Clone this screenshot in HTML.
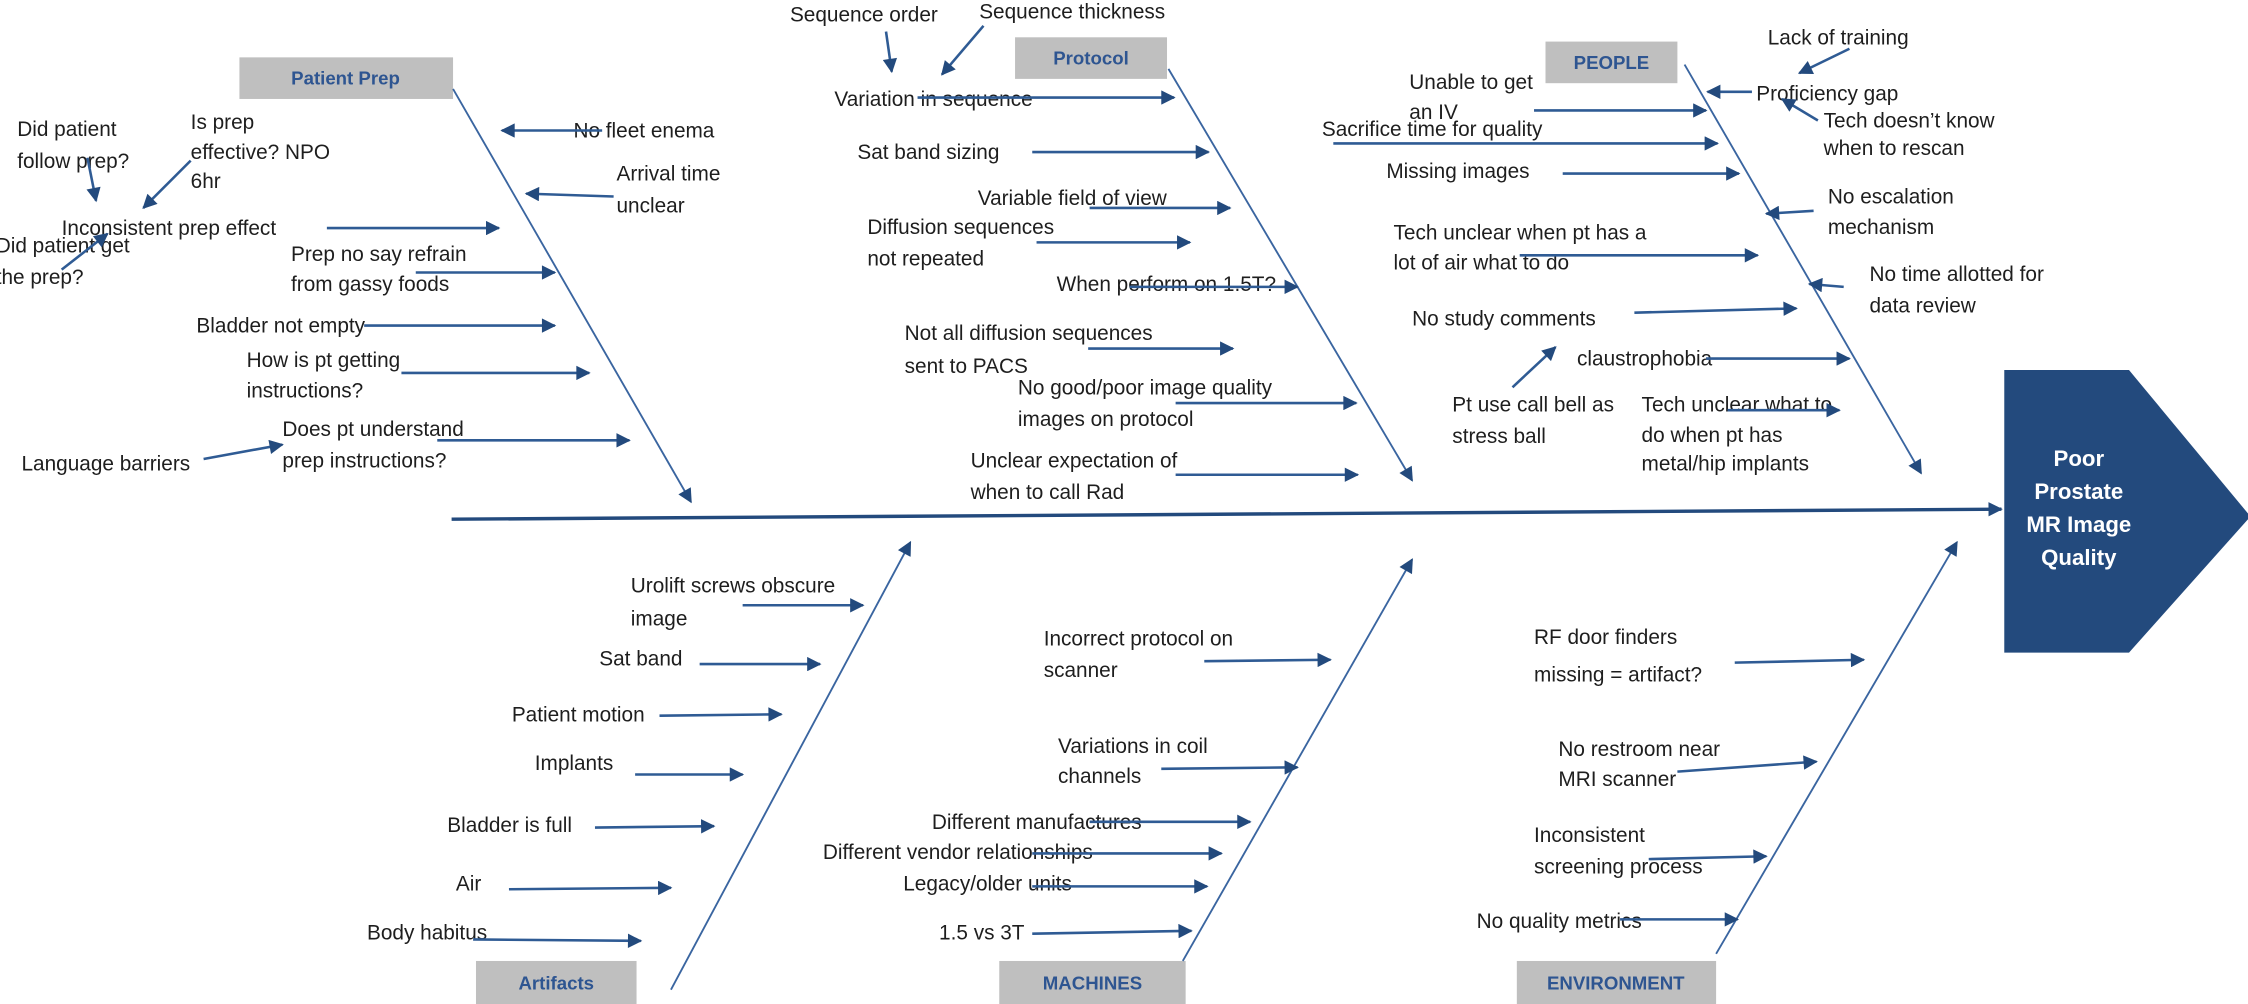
<!DOCTYPE html>
<html><head><meta charset="utf-8"><style>
html,body{margin:0;padding:0;background:#fff;}
svg{display:block;}
text{font-family:"Liberation Sans Narrow","Liberation Sans",sans-serif;font-size:14.5px;fill:#1e1e1e;}
.c{font-family:"Liberation Sans",sans-serif;font-weight:bold;font-size:13px;fill:#2e5591;text-anchor:middle;}
.h{font-family:"Liberation Sans",sans-serif;font-weight:bold;font-size:15.5px;fill:#fff;text-anchor:middle;}
.a{stroke:#2f5b94;stroke-width:1.8;fill:none;marker-end:url(#m);}
.b{stroke:#3a65a0;stroke-width:1.3;fill:none;marker-end:url(#m2);}
</style></head><body>
<svg width="2248" height="1004" viewBox="0 0 1568 700" preserveAspectRatio="none">
<defs>
<marker id="m" viewBox="0 0 10 10" refX="9" refY="5" markerWidth="13" markerHeight="10" markerUnits="userSpaceOnUse" orient="auto"><path d="M0,0L10,5L0,10z" fill="#234a7d"/></marker>
<marker id="m2" viewBox="0 0 10 10" refX="9" refY="5" markerWidth="16" markerHeight="10" markerUnits="userSpaceOnUse" orient="auto"><path d="M0,0L10,5L0,10z" fill="#234a7d"/></marker>
</defs>
<path d="M1398,258 L1485,258 L1568,358 L1568,362 L1485,455 L1398,455 Z" fill="#234a7d"/>
<text class="h" x="1450" y="325">Poor</text>
<text class="h" x="1450" y="348">Prostate</text>
<text class="h" x="1450" y="371">MR Image</text>
<text class="h" x="1450" y="394">Quality</text>
<line x1="315" y1="362" x2="1396" y2="355" stroke="#234a7d" stroke-width="2.4" marker-end="url(#m2)"/>
<rect x="167" y="40" width="149" height="29" fill="#bfbfbf"/><text class="c" x="241" y="59">Patient Prep</text>
<rect x="708" y="26" width="106" height="29" fill="#bfbfbf"/><text class="c" x="761" y="45">Protocol</text>
<rect x="1078" y="29" width="92" height="29" fill="#bfbfbf"/><text class="c" x="1124" y="48">PEOPLE</text>
<rect x="332" y="670" width="112" height="30" fill="#bfbfbf"/><text class="c" x="388" y="690">Artifacts</text>
<rect x="697" y="670" width="130" height="30" fill="#bfbfbf"/><text class="c" x="762" y="690">MACHINES</text>
<rect x="1058" y="670" width="139" height="30" fill="#bfbfbf"/><text class="c" x="1127" y="690">ENVIRONMENT</text>
<line class="b" x1="316" y1="62" x2="482" y2="350"/>
<line class="b" x1="815" y1="48" x2="985" y2="335"/>
<line class="b" x1="1175" y1="45" x2="1340" y2="330"/>
<line class="b" x1="468" y1="690" x2="635" y2="378"/>
<line class="b" x1="825" y1="670" x2="985" y2="390"/>
<line class="b" x1="1197" y1="665" x2="1365" y2="378"/>
<text x="400" y="96">No fleet enema</text><line class="a" x1="420" y1="91" x2="350" y2="91"/>
<text x="430" y="126">Arrival time</text><text x="430" y="148">unclear</text><line class="a" x1="428" y1="137" x2="367" y2="135"/>
<text x="43" y="164">Inconsistent prep effect</text><line class="a" x1="228" y1="159" x2="348" y2="159"/>
<text x="203" y="182">Prep no say refrain</text><text x="203" y="203">from gassy foods</text><line class="a" x1="290" y1="190" x2="387" y2="190"/>
<text x="137" y="232">Bladder not empty</text><line class="a" x1="254" y1="227" x2="387" y2="227"/>
<text x="172" y="256">How is pt getting</text><text x="172" y="277">instructions?</text><line class="a" x1="280" y1="260" x2="411" y2="260"/>
<text x="197" y="304">Does pt understand</text><text x="197" y="326">prep instructions?</text><line class="a" x1="305" y1="307" x2="439" y2="307"/>
<text x="15" y="328">Language barriers</text><line class="a" x1="142" y1="320" x2="197" y2="310"/>
<text x="12" y="95">Did patient</text><text x="12" y="117">follow prep?</text><line class="a" x1="61" y1="110" x2="67" y2="140"/>
<text x="133" y="90">Is prep</text><text x="133" y="111">effective? NPO</text><text x="133" y="131">6hr</text><line class="a" x1="133" y1="112" x2="100" y2="145"/>
<text x="-3" y="176">Did patient get</text><text x="-3" y="198">the prep?</text><line class="a" x1="43" y1="188" x2="75" y2="163"/>
<text x="551" y="15">Sequence order</text><line class="a" x1="618" y1="22" x2="622" y2="50"/>
<text x="683" y="13">Sequence thickness</text><line class="a" x1="686" y1="18" x2="657" y2="52"/>
<text x="582" y="74">Variation in sequence</text><line class="a" x1="640" y1="68" x2="819" y2="68"/>
<text x="598" y="111">Sat band sizing</text><line class="a" x1="720" y1="106" x2="843" y2="106"/>
<text x="682" y="143">Variable field of view</text><line class="a" x1="760" y1="145" x2="858" y2="145"/>
<text x="605" y="163">Diffusion sequences</text><text x="605" y="185">not repeated</text><line class="a" x1="723" y1="169" x2="830" y2="169"/>
<text x="737" y="203">When perform on 1.5T?</text><line class="a" x1="788" y1="200" x2="905" y2="200"/>
<text x="631" y="237">Not all diffusion sequences</text><text x="631" y="260">sent to PACS</text><line class="a" x1="759" y1="243" x2="860" y2="243"/>
<text x="710" y="275">No good/poor image quality</text><text x="710" y="297">images on protocol</text><line class="a" x1="820" y1="281" x2="946" y2="281"/>
<text x="677" y="326">Unclear expectation of</text><text x="677" y="348">when to call Rad</text><line class="a" x1="820" y1="331" x2="947" y2="331"/>
<text x="1233" y="31">Lack of training</text><line class="a" x1="1290" y1="34" x2="1255" y2="51"/>
<text x="1225" y="70">Proficiency gap</text><line class="a" x1="1222" y1="64" x2="1191" y2="64"/>
<text x="1272" y="89">Tech doesn’t know</text><text x="1272" y="108">when to rescan</text><line class="a" x1="1268" y1="84" x2="1243" y2="69"/>
<text x="983" y="62">Unable to get</text><text x="983" y="83">an IV</text><line class="a" x1="1070" y1="77" x2="1190" y2="77"/>
<text x="922" y="95">Sacrifice time for quality</text><line class="a" x1="930" y1="100" x2="1198" y2="100"/>
<text x="967" y="124">Missing images</text><line class="a" x1="1090" y1="121" x2="1213" y2="121"/>
<text x="1275" y="142">No escalation</text><text x="1275" y="163">mechanism</text><line class="a" x1="1265" y1="147" x2="1232" y2="149"/>
<text x="972" y="167">Tech unclear when pt has a</text><text x="972" y="188">lot of air what to do</text><line class="a" x1="1060" y1="178" x2="1226" y2="178"/>
<text x="1304" y="196">No time allotted for</text><text x="1304" y="218">data review</text><line class="a" x1="1286" y1="200" x2="1262" y2="198"/>
<text x="985" y="227">No study comments</text><line class="a" x1="1140" y1="218" x2="1253" y2="215"/>
<text x="1100" y="255">claustrophobia</text><line class="a" x1="1190" y1="250" x2="1290" y2="250"/>
<text x="1013" y="287">Pt use call bell as</text><text x="1013" y="309">stress ball</text><line class="a" x1="1055" y1="270" x2="1085" y2="242"/>
<text x="1145" y="287">Tech unclear what to</text><text x="1145" y="308">do when pt has</text><text x="1145" y="328">metal/hip implants</text><line class="a" x1="1205" y1="286" x2="1283" y2="286"/>
<text x="440" y="413">Urolift screws obscure</text><text x="440" y="436">image</text><line class="a" x1="518" y1="422" x2="602" y2="422"/>
<text x="418" y="464">Sat band</text><line class="a" x1="488" y1="463" x2="572" y2="463"/>
<text x="357" y="503">Patient motion</text><line class="a" x1="460" y1="499" x2="545" y2="498"/>
<text x="373" y="537">Implants</text><line class="a" x1="443" y1="540" x2="518" y2="540"/>
<text x="312" y="580">Bladder is full</text><line class="a" x1="415" y1="577" x2="498" y2="576"/>
<text x="318" y="621">Air</text><line class="a" x1="355" y1="620" x2="468" y2="619"/>
<text x="256" y="655">Body habitus</text><line class="a" x1="330" y1="655" x2="447" y2="656"/>
<text x="728" y="450">Incorrect protocol on</text><text x="728" y="472">scanner</text><line class="a" x1="840" y1="461" x2="928" y2="460"/>
<text x="738" y="525">Variations in coil</text><text x="738" y="546">channels</text><line class="a" x1="810" y1="536" x2="905" y2="535"/>
<text x="650" y="578">Different manufactures</text><line class="a" x1="760" y1="573" x2="872" y2="573"/>
<text x="574" y="599">Different vendor relationships</text><line class="a" x1="720" y1="595" x2="852" y2="595"/>
<text x="630" y="621">Legacy/older units</text><line class="a" x1="720" y1="618" x2="842" y2="618"/>
<text x="655" y="655">1.5 vs 3T</text><line class="a" x1="720" y1="651" x2="831" y2="649"/>
<text x="1070" y="449">RF door finders</text><text x="1070" y="475">missing = artifact?</text><line class="a" x1="1210" y1="462" x2="1300" y2="460"/>
<text x="1087" y="527">No restroom near</text><text x="1087" y="548">MRI scanner</text><line class="a" x1="1170" y1="538" x2="1267" y2="531"/>
<text x="1070" y="587">Inconsistent</text><text x="1070" y="609">screening process</text><line class="a" x1="1150" y1="599" x2="1232" y2="597"/>
<text x="1030" y="647">No quality metrics</text><line class="a" x1="1130" y1="641" x2="1212" y2="641"/>
</svg>
</body></html>
